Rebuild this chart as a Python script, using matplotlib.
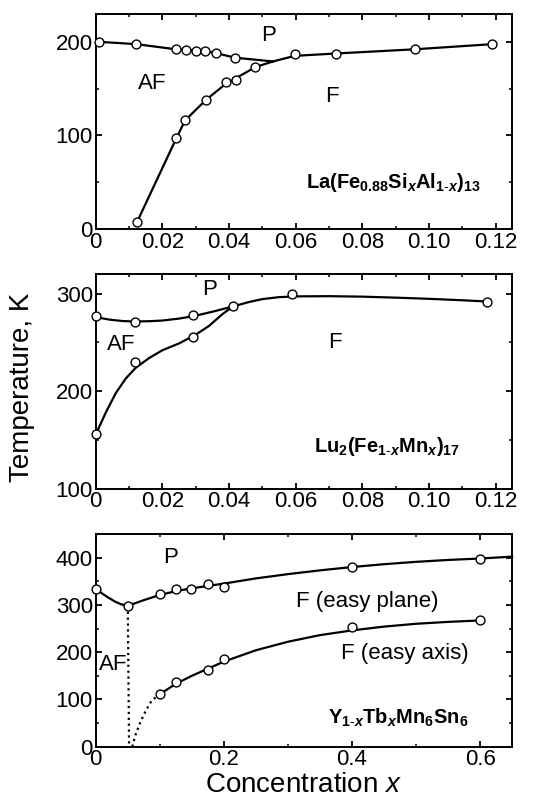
import matplotlib
matplotlib.use("Agg")
import matplotlib.pyplot as plt
from matplotlib.ticker import MultipleLocator

plt.rcParams["font.family"] = ["Liberation Sans", "DejaVu Sans"]
plt.rcParams["mathtext.fontset"] = "custom"
plt.rcParams["mathtext.rm"] = "Liberation Sans"
plt.rcParams["mathtext.it"] = "Liberation Sans:italic"
plt.rcParams["mathtext.bf"] = "Liberation Sans:bold"
plt.rcParams["mathtext.bfit"] = "Liberation Sans:italic:bold"

# --- La(Fe0.88SixAl1-x)13 ---
la_af_x = [0.001, 0.0122, 0.0241, 0.027, 0.030, 0.0328, 0.036, 0.0419]
la_af_t = [200, 197.5, 192, 191.5, 190.5, 190, 188, 183]
la_af_line_x = [0.001, 0.0122, 0.0241, 0.027, 0.030, 0.0328, 0.036, 0.0419, 0.0532]
la_af_line_t = [200, 197.5, 192, 191.5, 190.5, 190, 188, 183, 179]
la_f_x = [0.0124, 0.0242, 0.0268, 0.0331, 0.039, 0.042, 0.0479, 0.0597, 0.072, 0.0957, 0.119]
la_f_t = [7.5, 97, 116, 138, 157, 159, 173, 187, 187.5, 192, 197.5]
la_f_line_x = [0.0124, 0.0242, 0.0268, 0.0331, 0.039, 0.042, 0.0479, 0.0532,
               0.0597, 0.072, 0.0957, 0.119]
la_f_line_t = [7.5, 97, 116, 138, 155, 161, 173, 179, 185, 187.5, 192, 197.5]

# --- Lu2(Fe1-xMnx)17 ---
lu_up_x = [0.0002, 0.0117, 0.0293, 0.0412, 0.0588, 0.1175]
lu_up_t = [277, 271, 278.5, 287.4, 299.7, 291.8]
lu_up_line_x = [0.0, 0.004, 0.008, 0.0117, 0.016, 0.020, 0.025, 0.0293, 0.035, 0.0412,
                0.046, 0.050, 0.055, 0.060, 0.070, 0.080, 0.090, 0.100, 0.110, 0.1175]
lu_up_line_t = [276, 273.5, 272, 271.5, 271.8, 272.5, 274.5, 277, 281.5, 287,
                291.5, 294.5, 296.5, 297.3, 297.5, 297, 296, 294.8, 293.3, 292]
lu_lo_x = [0.0002, 0.0117, 0.0293]
lu_lo_t = [155.6, 230, 256]
lu_lo_line_x = [0.0, 0.003, 0.006, 0.009, 0.012, 0.016, 0.020, 0.025, 0.030, 0.034,
                0.038, 0.0412]
lu_lo_line_t = [155.6, 178, 198, 213, 224, 234, 242, 249, 258, 267, 279, 287]

# --- Y1-xTbxMn6Sn6 ---
y_up_x = [0.001, 0.05, 0.1005, 0.125, 0.149, 0.1745, 0.2005, 0.4005, 0.6]
y_up_t = [334, 298, 323, 333, 333, 343.6, 337, 380, 398]
y_up_line_x = [0.0, 0.01, 0.02, 0.03, 0.04, 0.05, 0.075, 0.10, 0.125, 0.15, 0.175,
               0.20, 0.25, 0.30, 0.35, 0.40, 0.45, 0.50, 0.55, 0.60, 0.65]
y_up_line_t = [334, 324, 315, 307, 301, 298, 310, 321, 329, 335, 340,
               345, 356, 365, 373, 380, 386, 391, 395, 398, 402]
y_lo_x = [0.1005, 0.125, 0.1745, 0.2005, 0.4005, 0.6]
y_lo_t = [111.5, 136, 162, 185, 254, 267]
y_lo_line_x = [0.1005, 0.125, 0.15, 0.175, 0.20, 0.25, 0.30, 0.35, 0.40, 0.45, 0.50, 0.55, 0.60]
y_lo_line_t = [111.5, 133, 150, 165, 180, 204, 222, 236, 246, 254, 260, 264, 267]
y_dot_x = [0.057, 0.062, 0.069, 0.078, 0.087, 0.095, 0.1005]
y_dot_t = [0, 25, 50, 76, 97, 106, 111.5]
y_vert_x = [0.05, 0.051, 0.052]
y_vert_t = [298, 150, 0]

LW = 1.6
MS = 6.4
TS = 16      # tick labels
LS = 16      # phase labels
FS = 14.5    # formula


def style(ax, xmaj, xmin, ymaj, ymin):
    ax.xaxis.set_major_locator(MultipleLocator(xmaj))
    ax.xaxis.set_minor_locator(MultipleLocator(xmin))
    ax.yaxis.set_major_locator(MultipleLocator(ymaj))
    ax.yaxis.set_minor_locator(MultipleLocator(ymin))
    ax.tick_params(which="both", direction="in", top=True, right=True, labelsize=TS, pad=2)
    ax.tick_params(which="major", length=4, width=1.3)
    ax.tick_params(which="minor", length=2.5, width=1.1)
    for s in ax.spines.values():
        s.set_linewidth(1.4)


def marks(ax, x, t):
    ax.plot(x, t, "o", ms=MS, mfc="white", mec="black", mew=1.0, zorder=5, clip_on=False)


fig = plt.figure(figsize=(5.38, 8.09), dpi=100)
L, W = 0.178, 0.774
ax1 = fig.add_axes([L, 0.717, W, 0.266])
ax2 = fig.add_axes([L, 0.396, W, 0.265])
ax3 = fig.add_axes([L, 0.077, W, 0.263])

# panel 1
ax1.plot(la_af_line_x, la_af_line_t, "k-", lw=LW)
ax1.plot(la_f_line_x, la_f_line_t, "k-", lw=LW)
marks(ax1, la_af_x, la_af_t)
marks(ax1, la_f_x, la_f_t)
ax1.set_xlim(0, 0.125)
ax1.set_ylim(0, 230)
style(ax1, 0.02, 0.01, 100, 50)
ax1.set_xticks([0, 0.02, 0.04, 0.06, 0.08, 0.10, 0.12])
ax1.set_xticklabels(["0", "0.02", "0.04", "0.06", "0.08", "0.10", "0.12"])
ax1.text(0.052, 207, "P", fontsize=LS, ha="center", va="center")
ax1.text(0.017, 155, "AF", fontsize=LS, ha="center", va="center")
ax1.text(0.071, 142, "F", fontsize=LS, ha="center", va="center")
ax1.text(0.1155, 50, r"$\mathbf{La(Fe}_{\mathbf{0.88}}\mathbf{Si}_{\mathbfit{x}}\mathbf{Al}_{\mathbf{1\text{-}}\mathbfit{x}}\mathbf{)}_{\mathbf{13}}$",
         fontsize=FS, ha="right", va="center")

# panel 2
ax2.plot(lu_up_line_x, lu_up_line_t, "k-", lw=LW)
ax2.plot(lu_lo_line_x, lu_lo_line_t, "k-", lw=LW)
marks(ax2, lu_up_x, lu_up_t)
marks(ax2, lu_lo_x, lu_lo_t)
ax2.set_xlim(0, 0.125)
ax2.set_ylim(100, 320)
style(ax2, 0.02, 0.01, 100, 50)
ax2.set_xticks([0, 0.02, 0.04, 0.06, 0.08, 0.10, 0.12])
ax2.set_xticklabels(["0", "0.02", "0.04", "0.06", "0.08", "0.10", "0.12"])
ax2.text(0.0342, 304, "P", fontsize=LS, ha="center", va="center")
ax2.text(0.0077, 248, "AF", fontsize=LS, ha="center", va="center")
ax2.text(0.0717, 250, "F", fontsize=LS, ha="center", va="center")
ax2.text(0.1095, 143, r"$\mathbf{Lu}_{\mathbf{2}}\mathbf{(Fe}_{\mathbf{1\text{-}}\mathbfit{x}}\mathbf{Mn}_{\mathbfit{x}}\mathbf{)}_{\mathbf{17}}$",
         fontsize=FS, ha="right", va="center")

# panel 3
ax3.plot(y_up_line_x, y_up_line_t, "k-", lw=LW, clip_on=False)
ax3.plot(y_lo_line_x, y_lo_line_t, "k-", lw=LW)
ax3.plot(y_dot_x, y_dot_t, "k:", lw=LW)
ax3.plot(y_vert_x, y_vert_t, "k:", lw=LW)
marks(ax3, y_up_x, y_up_t)
marks(ax3, y_lo_x, y_lo_t)
ax3.set_xlim(0, 0.65)
ax3.set_ylim(0, 450)
style(ax3, 0.2, 0.1, 100, 50)
ax3.set_xticks([0, 0.2, 0.4, 0.6])
ax3.set_xticklabels(["0", "0.2", "0.4", "0.6"])
ax3.text(0.116, 400, "P", fontsize=LS, ha="center", va="center")
ax3.text(0.027, 173, "AF", fontsize=LS, ha="center", va="center")
ax3.text(0.423, 307, "F (easy plane)", fontsize=LS, ha="center", va="center")
ax3.text(0.483, 197, "F (easy axis)", fontsize=LS, ha="center", va="center")
ax3.text(0.582, 60, r"$\mathbf{Y}_{\mathbf{1\text{-}}\mathbfit{x}}\mathbf{Tb}_{\mathbfit{x}}\mathbf{Mn}_{\mathbf{6}}\mathbf{Sn}_{\mathbf{6}}$",
         fontsize=FS, ha="right", va="center")

fig.text(22 / 538, 1 - 387 / 809, "Temperature, K", rotation=90, fontsize=20,
         ha="center", va="center")
fig.text(304 / 538, 1 - 785 / 809, r"Concentration $\mathit{x}$", fontsize=20,
         ha="center", va="center")

fig.savefig("out.png", dpi=100)
